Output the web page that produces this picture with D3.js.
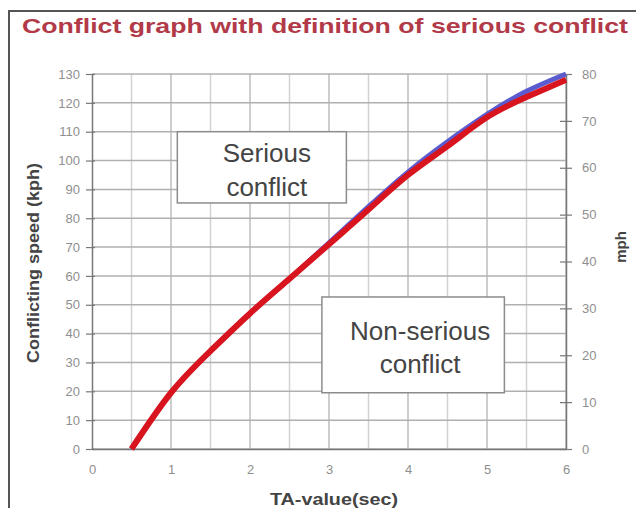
<!DOCTYPE html>
<html>
<head>
<meta charset="utf-8">
<script src="https://cdn.jsdelivr.net/npm/d3@7"></script>
<style>
  body { margin: 0; background: #fff; }
  svg { display: block; font-family: "Liberation Sans", Arial, sans-serif; }
</style>
</head>
<body>
<div id="chart"></div>
<script>
// TA-value (sec) vs conflicting speed (kph)
const taValues = [0.5, 1, 1.5, 2, 2.5, 3, 3.5, 4, 4.5, 5, 5.5, 6];
const speedRed = [0, 19.5, 34, 47, 59, 71, 83, 95, 105, 115, 122, 128];
const speedBlue = [0, 19.5, 34, 47, 59, 71.5, 84, 96, 106.5, 116, 124, 130];

const xTicks = [0, 1, 2, 3, 4, 5, 6];
const xGrid = [0.5, 1, 1.5, 2, 2.5, 3, 3.5, 4, 4.5, 5, 5.5, 6];
const kphTicks = d3.range(0, 131, 10);
const mphTicks = d3.range(0, 81, 10);

const title = "Conflict graph with definition of serious conflict";
const labels = [
  { lines: ["Serious", "conflict"], box: [1.08, 3.22, 110, 85.3], shift: 5 },
  { lines: ["Non-serious", "conflict"], box: [2.91, 5.22, 52.7, 19.5], shift: 7 }
];

const W = 636, H = 508;
const svg = d3.select("#chart").append("svg")
  .attr("width", W).attr("height", H);

const x = d3.scaleLinear().domain([0, 6]).range([92, 566]);
const y = d3.scaleLinear().domain([0, 130]).range([449, 74]);
const y2 = d3.scaleLinear().domain([0, 80]).range([449, 74]);

// frame around the figure
svg.append("path")
  .attr("d", `M9,${H} V11 H${W}`)
  .attr("fill", "none")
  .attr("stroke", "#555")
  .attr("stroke-width", 2);

svg.append("text")
  .attr("x", 22).attr("y", 33)
  .attr("fill", "#b23a48")
  .style("font-size", "21px")
  .style("font-weight", "bold")
  .attr("textLength", 606)
  .attr("lengthAdjust", "spacingAndGlyphs")
  .text(title);

// grid
svg.append("g")
  .selectAll("line")
  .data(xGrid)
  .join("line")
  .attr("x1", d => x(d)).attr("x2", d => x(d))
  .attr("y1", y(0)).attr("y2", y(130))
  .attr("stroke", d => Number.isInteger(d) ? "#bdbdbd" : "#d2d2d2")
  .attr("stroke-width", 1.5);

svg.append("g")
  .selectAll("line")
  .data(kphTicks)
  .join("line")
  .attr("x1", x(0)).attr("x2", x(6))
  .attr("y1", d => y(d)).attr("y2", d => y(d))
  .attr("stroke", "#b0b0b0")
  .attr("stroke-width", 1.5);

// axes
const styleAxis = g => {
  g.select(".domain").attr("stroke", "#777").attr("stroke-width", 1.5);
  g.selectAll(".tick line").attr("stroke", "#777").attr("stroke-width", 1.2);
  g.selectAll(".tick text").attr("fill", "#8f8f8f").style("font-size", "13px");
};

svg.append("g")
  .attr("transform", `translate(${x(0)},0)`)
  .call(d3.axisLeft(y).tickValues(kphTicks).tickSizeInner(6).tickSizeOuter(0).tickPadding(6))
  .call(g => g.selectAll(".tick line").attr("x2", 3).attr("x1", -6))
  .call(styleAxis);

svg.append("g")
  .attr("transform", `translate(${x(6)},0)`)
  .call(d3.axisRight(y2).tickValues(mphTicks).tickSizeInner(6).tickSizeOuter(0).tickPadding(10))
  .call(g => g.selectAll(".tick line").attr("x1", -6).attr("x2", 6))
  .call(styleAxis);

svg.append("g")
  .attr("transform", `translate(0,${y(0)})`)
  .call(d3.axisBottom(x).tickValues(xTicks).tickSize(0).tickPadding(16).tickFormat(d3.format("d")))
  .call(styleAxis);

// axis titles
svg.append("text")
  .attr("x", 334).attr("y", 505)
  .attr("text-anchor", "middle")
  .attr("fill", "#444")
  .style("font-size", "17px")
  .style("font-weight", "bold")
  .attr("textLength", 128)
  .attr("lengthAdjust", "spacingAndGlyphs")
  .text("TA-value(sec)");

svg.append("text")
  .attr("transform", "translate(39,263) rotate(-90)")
  .attr("text-anchor", "middle")
  .attr("fill", "#444")
  .style("font-size", "16px")
  .style("font-weight", "bold")
  .attr("textLength", 200)
  .attr("lengthAdjust", "spacingAndGlyphs")
  .text("Conflicting speed (kph)");

svg.append("text")
  .attr("transform", "translate(626,247) rotate(-90)")
  .attr("text-anchor", "middle")
  .attr("fill", "#444")
  .style("font-size", "15px")
  .style("font-weight", "bold")
  .text("mph");

// text boxes
labels.forEach(l => {
  const [x0, x1, yTop, yBot] = l.box;
  svg.append("rect")
    .attr("x", x(x0)).attr("y", y(yTop))
    .attr("width", x(x1) - x(x0)).attr("height", y(yBot) - y(yTop))
    .attr("fill", "#fff")
    .attr("stroke", "#8c8c8c")
    .attr("stroke-width", 1.5);
  const cx = (x(x0) + x(x1)) / 2 + l.shift;
  const cy = (y(yTop) + y(yBot)) / 2;
  svg.append("text")
    .attr("x", cx).attr("y", cy)
    .attr("text-anchor", "middle")
    .attr("fill", "#444")
    .style("font-size", "26px")
    .selectAll("tspan")
    .data(l.lines)
    .join("tspan")
    .attr("x", cx)
    .attr("dy", (d, i) => i === 0 ? "-0.2em" : "1.3em")
    .text(d => d);
});

// curves
const pts = ys => taValues.map((t, i) => [t, ys[i]]);
const line = d3.line()
  .curve(d3.curveNatural)
  .x(d => x(d[0]))
  .y(d => y(d[1]));

svg.append("path")
  .datum(pts(speedBlue))
  .attr("fill", "none")
  .attr("stroke", "#5b5bd0")
  .attr("stroke-width", 5)
  .attr("d", line);

svg.append("path")
  .datum(pts(speedRed))
  .attr("fill", "none")
  .attr("stroke", "#d8141e")
  .attr("stroke-width", 6)
  .attr("d", line);
</script>
</body>
</html>
